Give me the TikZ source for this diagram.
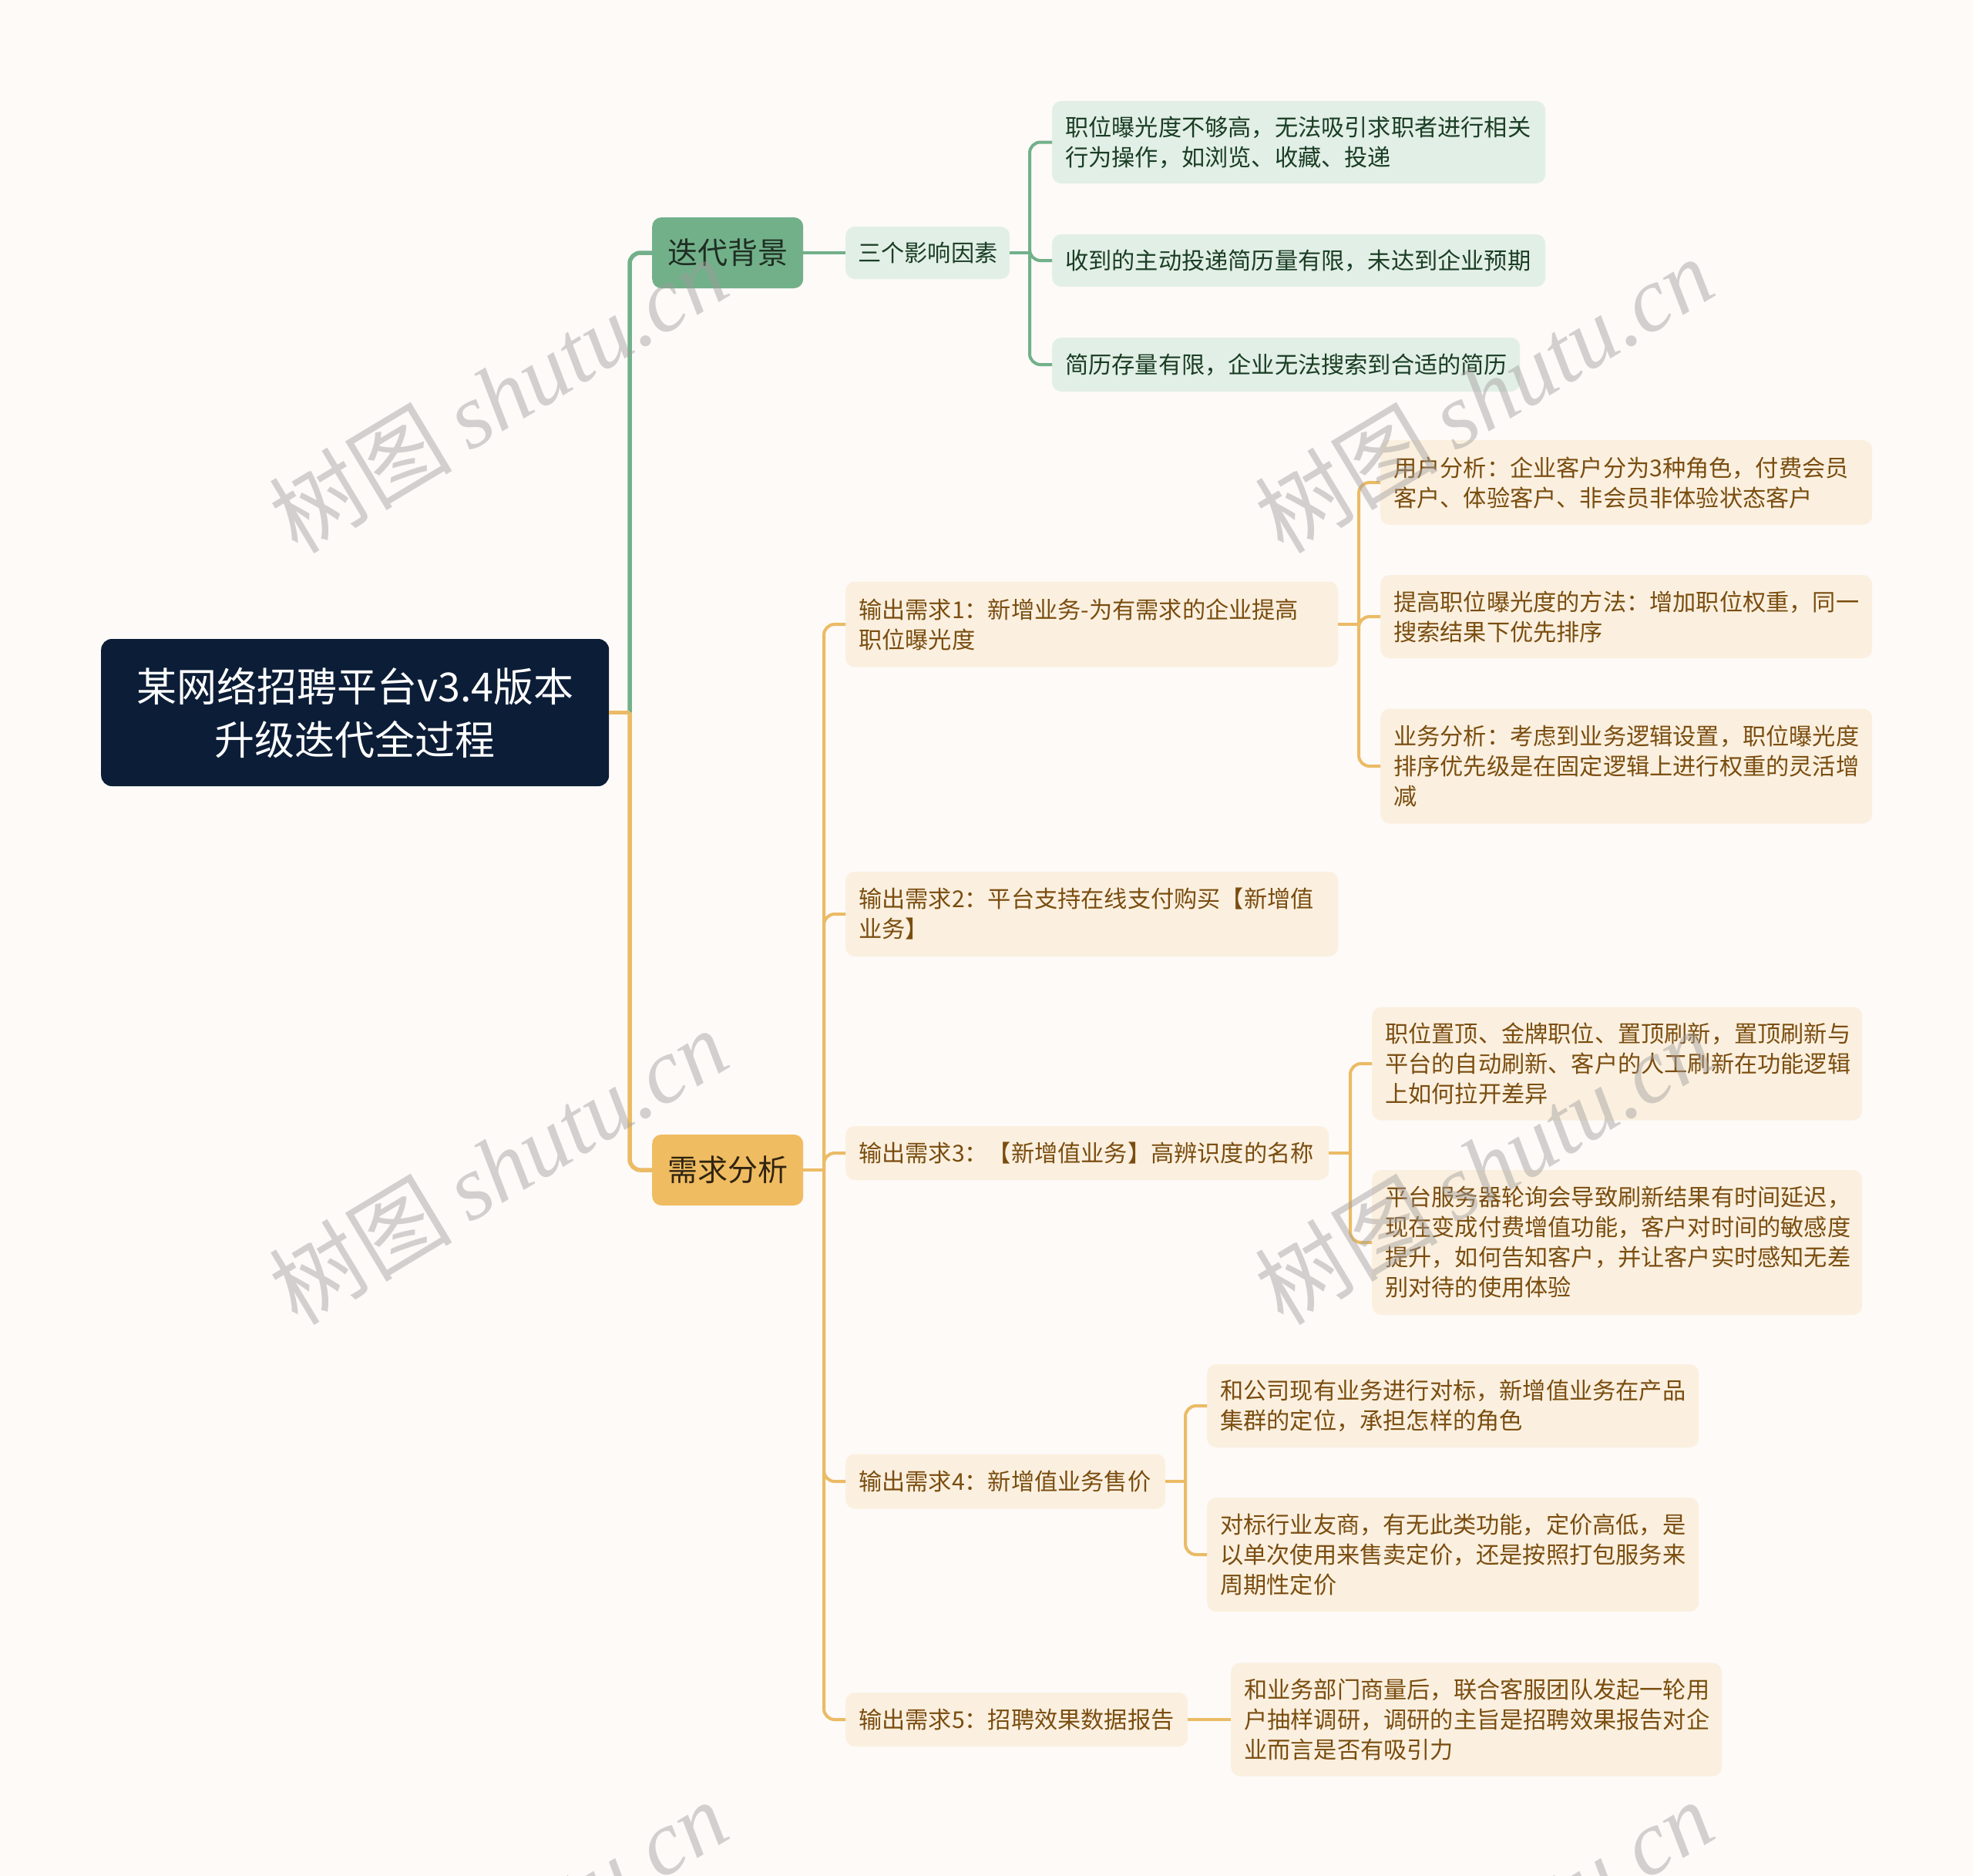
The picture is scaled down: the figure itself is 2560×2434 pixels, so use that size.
\documentclass[tikz,border=0pt]{standalone}
\usepackage{fontspec}
\setmainfont{Noto Sans CJK SC}
\newfontfamily\wmcjk{Noto Sans CJK SC}
\newfontfamily\wmlat{Liberation Serif}
\definecolor{bgc}{HTML}{FDFAF8}
\definecolor{rootfill}{HTML}{0C1D37}
\definecolor{gmain}{HTML}{72B08A}
\definecolor{gtextd}{HTML}{1E2E22}
\definecolor{omain}{HTML}{F0BC62}
\definecolor{otextd}{HTML}{2F2410}
\definecolor{gleaf}{HTML}{E2EFE6}
\definecolor{gtext}{HTML}{1A3D24}
\definecolor{oleaf}{HTML}{FBF0DF}
\definecolor{otext}{HTML}{7A4D10}
\definecolor{gline}{HTML}{72B08A}
\definecolor{oline}{HTML}{EBBB65}
\definecolor{wmc}{HTML}{A09C9B}
\tikzset{
  rootbox/.style={rectangle, rounded corners=14pt, fill=rootfill, text=white, anchor=west,
    font=\fontsize{52}{69}\selectfont, align=center, inner sep=0pt,
    minimum width=659pt, minimum height=191pt},
  branchbox/.style={rectangle, rounded corners=12pt, anchor=west,
    font=\fontsize{39}{47}\selectfont, inner sep=0pt,
    minimum width=196pt, minimum height=92pt},
  leafg/.style={rectangle, rounded corners=12pt, fill=gleaf, text=gtext, anchor=west,
    font=\fontsize{30.2}{39}\selectfont, align=left, inner xsep=17pt, inner ysep=0pt},
  leafo/.style={rectangle, rounded corners=12pt, fill=oleaf, text=otext, anchor=west,
    font=\fontsize{30.2}{39}\selectfont, align=left, inner xsep=17pt, inner ysep=0pt},
  gcon/.style={draw=gline, line width=4pt, rounded corners=14pt},
  ocon/.style={draw=oline, line width=4pt, rounded corners=14pt},
  gconroot/.style={draw=gline, line width=5.5pt, rounded corners=14pt},
  oconroot/.style={draw=oline, line width=5.5pt, rounded corners=14pt},
  wmark/.style={rotate=31, text=wmc, text opacity=0.45, inner sep=0pt}
}
\begin{document}
\begin{tikzpicture}[x=1pt,y=-1pt]
\fill[bgc] (0,0) rectangle (2560,2434);
\useasboundingbox (0,0) rectangle (2560,2434);

% nodes
\node[rootbox] (root) at (131,924.5) {某网络招聘平台v3.4版本\\升级迭代全过程};
\node[branchbox, fill=gmain, text=gtextd] (B1) at (846,328) {迭代背景};
\node[branchbox, fill=omain, text=otextd] (B2) at (846,1518) {需求分析};

\node[leafg, inner xsep=16pt, text width=181pt, minimum height=68pt] (T) at (1097,328) {三个影响因素};
\node[leafg, text width=606pt, minimum height=107pt] (c1) at (1365,184.5) {职位曝光度不够高，无法吸引求职者进行相关\\行为操作，如浏览、收藏、投递};
\node[leafg, text width=606pt, minimum height=68pt] (c2) at (1365,338) {收到的主动投递简历量有限，未达到企业预期};
\node[leafg, text width=573pt, minimum height=70pt] (c3) at (1365,473) {简历存量有限，企业无法搜索到合适的简历};

\node[leafo, text width=605pt, minimum height=111pt] (r1) at (1097,810) {输出需求1：新增业务-为有需求的企业提高\\职位曝光度};
\node[leafo, text width=605pt, minimum height=110pt] (r2) at (1097,1186) {输出需求2：平台支持在线支付购买【新增值\\业务】};
\node[leafo, text width=593pt, minimum height=70pt] (r3) at (1097,1496) {输出需求3：【新增值业务】高辨识度的名称};
\node[leafo, text width=381pt, minimum height=71pt] (r4) at (1097,1922) {输出需求4：新增值业务售价};
\node[leafo, text width=410pt, minimum height=70pt] (r5) at (1097,2231) {输出需求5：招聘效果数据报告};

\node[leafo, text width=604pt, minimum height=110pt] (a1) at (1791,626) {用户分析：企业客户分为3种角色，付费会员\\客户、体验客户、非会员非体验状态客户};
\node[leafo, text width=604pt, minimum height=108pt] (a2) at (1791,800) {提高职位曝光度的方法：增加职位权重，同一\\搜索结果下优先排序};
\node[leafo, text width=604pt, minimum height=149pt] (a3) at (1791,994) {业务分析：考虑到业务逻辑设置，职位曝光度\\排序优先级是在固定逻辑上进行权重的灵活增\\减};

\node[leafo, text width=602pt, minimum height=147pt] (b1) at (1780,1380) {职位置顶、金牌职位、置顶刷新，置顶刷新与\\平台的自动刷新、客户的人工刷新在功能逻辑\\上如何拉开差异};
\node[leafo, text width=602pt, minimum height=188pt] (b2) at (1780,1612) {平台服务器轮询会导致刷新结果有时间延迟，\\现在变成付费增值功能，客户对时间的敏感度\\提升，如何告知客户，并让客户实时感知无差\\别对待的使用体验};

\node[leafo, text width=604pt, minimum height=108pt] (d1) at (1566,1824) {和公司现有业务进行对标，新增值业务在产品\\集群的定位，承担怎样的角色};
\node[leafo, text width=604pt, minimum height=148pt] (d2) at (1566,2017) {对标行业友商，有无此类功能，定价高低，是\\以单次使用来售卖定价，还是按照打包服务来\\周期性定价};

\node[leafo, text width=603pt, minimum height=147pt] (e1) at (1597,2231) {和业务部门商量后，联合客服团队发起一轮用\\户抽样调研，调研的主旨是招聘效果报告对企\\业而言是否有吸引力};

% junctions
\coordinate (j0) at (817,924.5);
\coordinate (j1) at (1069,1518);
\coordinate (j2) at (1336,328);
\coordinate (j3) at (1763,810);
\coordinate (j4) at (1752,1496);
\coordinate (j5) at (1538,1922);

% connectors
\draw[gconroot] (j0) |- (B1.west);
\draw[oconroot] (j0) |- (B2.west);
\draw[oconroot] (root.east) -- (j0);

\draw[gcon] (B1.east) -- (T.west);
\draw[gcon] (T.east) -- (j2);
\draw[gcon] (j2) |- (c1.west);
\draw[gcon] (j2) |- (c2.west);
\draw[gcon] (j2) |- (c3.west);

\draw[ocon] (B2.east) -- (j1);
\draw[ocon] (j1) |- (r1.west);
\draw[ocon] (j1) |- (r2.west);
\draw[ocon] (j1) |- (r3.west);
\draw[ocon] (j1) |- (r4.west);
\draw[ocon] (j1) |- (r5.west);

\draw[ocon] (r1.east) -- (j3);
\draw[ocon] (j3) |- (a1.west);
\draw[ocon] (j3) |- (a2.west);
\draw[ocon] (j3) |- (a3.west);

\draw[ocon] (r3.east) -- (j4);
\draw[ocon] (j4) |- (b1.west);
\draw[ocon] (j4) |- (b2.west);

\draw[ocon] (r4.east) -- (j5);
\draw[ocon] (j5) |- (d1.west);
\draw[ocon] (j5) |- (d2.west);

\draw[ocon] (r5.east) -- (e1.west);

% watermarks
\foreach \wx/\wy [count=\i] in {646/512, 1925/512, 646/1513, 1925/1513, 646/2514, 1925/2514} {
  \node[wmark] (wm\i) at (\wx,\wy) {\fontsize{119}{130}\selectfont\wmcjk 树图\hspace{22pt}\wmlat\itshape shutu.cn};
}
\end{tikzpicture}
\end{document}
